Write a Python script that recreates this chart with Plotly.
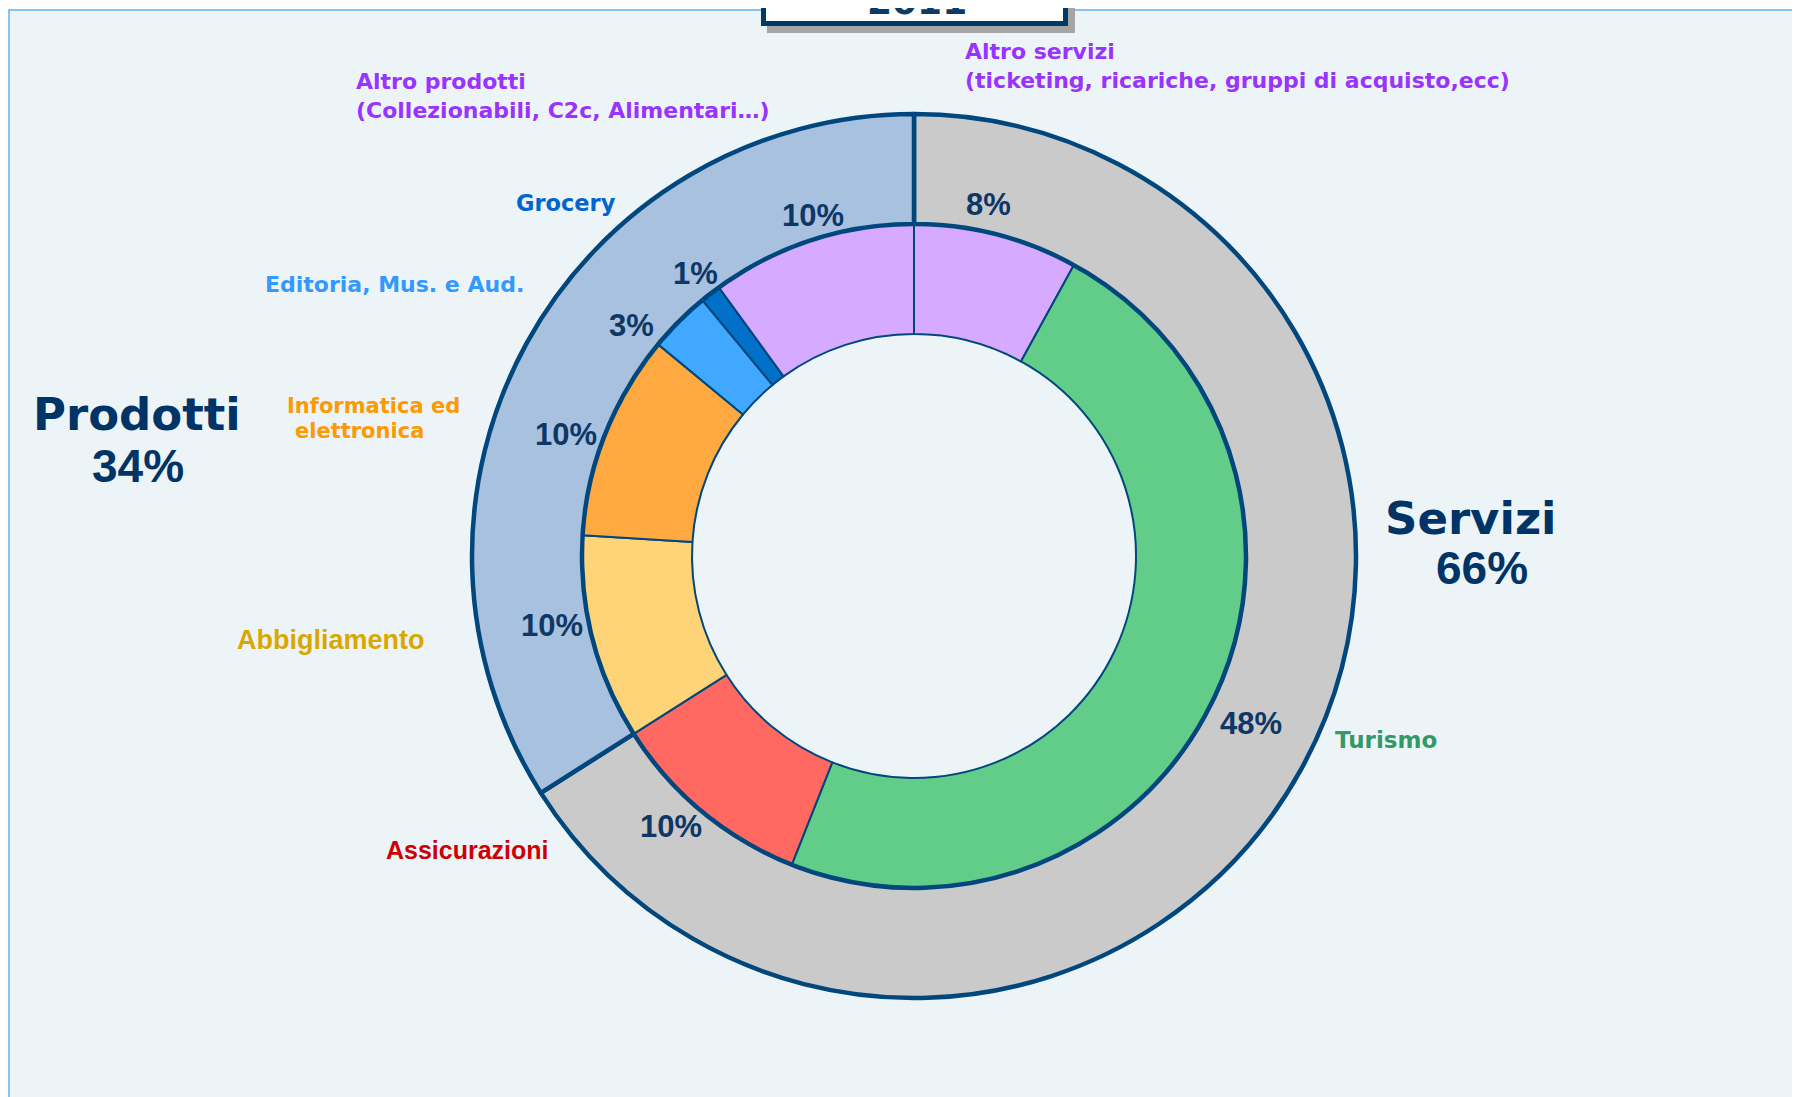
import numpy as np
import plotly.graph_objects as go

W, H = 1800, 1097
OFF = 8  # page body margin of the browser

# ---------------- data ----------------
year_label = "2011"
inner_labels = ["Altro servizi", "Turismo", "Assicurazioni", "Abbigliamento",
                "Informatica ed elettronica", "Editoria, Mus. e Aud.", "Grocery", "Altro prodotti"]
inner_values = [8, 48, 10, 10, 10, 3, 1, 10]
inner_colors = ["#D5AAFF", "#62CD88", "#FF6961", "#FFD479",
                "#FFA940", "#40A9FF", "#0070C9", "#D5AAFF"]

outer_labels = ["Servizi", "Prodotti"]
outer_values = [66, 34]
outer_colors = ["#CACACA", "#A7C1DF"]

# category captions (text, colour)
cap_texts = ["Altro servizi<br>(ticketing, ricariche, gruppi di acquisto,ecc)",
             "Turismo", "Assicurazioni", "Abbigliamento",
             "Informatica ed", "elettronica",
             "Editoria, Mus. e Aud.", "Grocery",
             "Altro prodotti<br>(Collezionabili, C2c, Alimentari…)"]
cap_colors = ["#9933FF", "#339966", "#CC0000", "#D9A800",
              "#FF9900", "#FF9900", "#3399FF", "#0066CC", "#9933FF"]

# ---------------- geometry / style ----------------
cx, cy = 914, 556          # pie centre, px from top-left of the window
R_out, R_in, R_hole = 442, 332, 222
NAVY = "#00477D"
DARK = "#0F3766"
# per-label placement tweaks for the percentage labels (angle nudge in deg, radius px)
pct_nudge = [-2.5, 1.2, 2.3, 3.6, -2.3, -5.8, 0.0, 1.4]
pct_radius = [359, 376, 364, 369, 369, 364, 357, 355]


def px(x):
    return (x - OFF) / W


def py(y):
    return 1 - (y - OFF) / H


def dom(r):
    return dict(x=[px(cx - r), px(cx + r)], y=[py(cy + r), py(cy - r)])


fig = go.Figure()
fig.add_trace(go.Pie(
    labels=inner_labels, values=inner_values, sort=False, direction="clockwise",
    rotation=0, hole=R_hole / R_in, domain=dom(R_in), textinfo="none",
    marker=dict(colors=inner_colors, line=dict(color=NAVY, width=2)),
    showlegend=False))
fig.add_trace(go.Pie(
    labels=outer_labels, values=outer_values, sort=False, direction="clockwise",
    rotation=0, hole=R_in / R_out, domain=dom(R_out), textinfo="none",
    marker=dict(colors=outer_colors, line=dict(color=NAVY, width=4.5)),
    showlegend=False))

annotations = []

# percentage labels of the inner ring, placed in the outer ring
total = float(sum(inner_values))
cum = 0.0
for v, dn, r in zip(inner_values, pct_nudge, pct_radius):
    mid = np.deg2rad((cum + v / 2) / total * 360 + dn)
    cum += v
    x = cx + r * np.sin(mid)
    y = cy - r * np.cos(mid)
    annotations.append(dict(
        x=px(x), y=py(y), xref="paper", yref="paper", showarrow=False,
        text=f"{v:g}%", xanchor="center", yanchor="middle",
        font=dict(family="Liberation Sans, Arial", size=31, color=DARK, weight="bold")))

# caption placement: (x, y, xanchor, font family, size, weight)
cap_pos = [
    (963, 66, "left", "DejaVu Sans", 22, "bold"),
    (1386, 740, "center", "DejaVu Sans", 23, "bold"),
    (467, 850, "center", "Liberation Sans, Arial", 25, "bold"),
    (331, 640, "center", "Liberation Sans, Arial", 27, "bold"),
    (285, 406, "left", "DejaVu Sans", 21, "bold"),
    (293, 431, "left", "DejaVu Sans", 21, "bold"),
    (394, 284, "center", "DejaVu Sans", 22, "bold"),
    (566, 203, "center", "DejaVu Sans", 22.5, "bold"),
    (354, 96, "left", "DejaVu Sans", 22, "bold"),
]
for t, c, (x, y, xa, fam, sz, wt) in zip(cap_texts, cap_colors, cap_pos):
    annotations.append(dict(
        x=px(x), y=py(y), xref="paper", yref="paper", showarrow=False,
        text=t, xanchor=xa, yanchor="middle", align="left",
        font=dict(family=fam, size=sz, color=c, weight=wt)))

# group totals
group_pos = [((1471, 519), (1482, 568)), ((137, 415), (138, 466))]
for name, val, ((x1, y1), (x2, y2)) in zip(outer_labels, outer_values, group_pos):
    annotations.append(dict(
        x=px(x1), y=py(y1), xref="paper", yref="paper", showarrow=False,
        text=name, xanchor="center", yanchor="middle",
        font=dict(family="DejaVu Sans", size=45, color="#003366", weight="bold")))
    annotations.append(dict(
        x=px(x2), y=py(y2), xref="paper", yref="paper", showarrow=False,
        text=f"{val}%", xanchor="center", yanchor="middle",
        font=dict(family="Liberation Sans, Arial", size=46, color="#003366", weight="bold")))

# year title (cut at the top)
annotations.append(dict(
    x=px(917), y=py(24), xref="paper", yref="paper", showarrow=False,
    text=year_label, xanchor="center", yanchor="bottom",
    font=dict(family="DejaVu Sans", size=36, color="#0D3A66", weight="bold")))

shapes = [
    dict(type="rect", xref="paper", yref="paper", x0=px(9), x1=px(W + 40),
         y0=-0.05, y1=py(10), fillcolor="#EDF4F8",
         line=dict(color="#63B0EE", width=1.5), layer="below"),
    dict(type="rect", xref="paper", yref="paper", x0=px(767), x1=px(1075),
         y0=py(33), y1=py(-40), fillcolor="#A5A5A5", line=dict(width=0), layer="above"),
    dict(type="rect", xref="paper", yref="paper", x0=px(763.5), x1=px(1065.5),
         y0=py(23.5), y1=py(-40), fillcolor="#FFFFFF",
         line=dict(color="#003A66", width=5), layer="above"),
]

fig.update_layout(
    width=W, height=H, margin=dict(l=0, r=0, t=0, b=0),
    paper_bgcolor="#FFFFFF", plot_bgcolor="#FFFFFF",
    showlegend=False, annotations=annotations, shapes=shapes)

fig.write_html("out.html")
